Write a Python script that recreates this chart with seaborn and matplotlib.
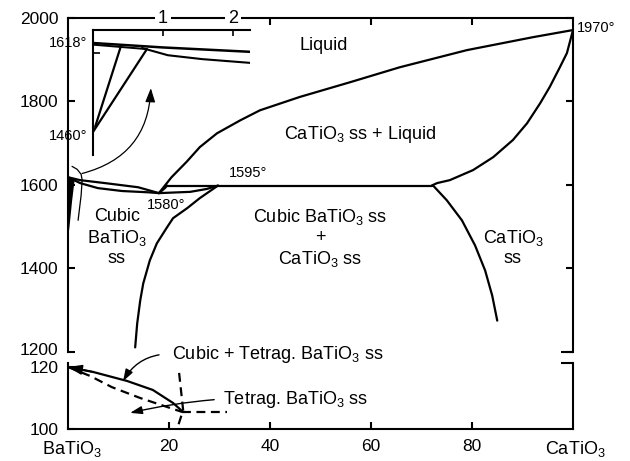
import matplotlib
matplotlib.use("Agg")
import matplotlib.pyplot as plt
from matplotlib.transforms import ScaledTranslation
import seaborn as sns

# ---------------- data (mol% CaTiO3, temperature °C) ----------------
liquidus_x = [18.0, 20.5, 23.5, 26.1, 29.5, 34.1, 38.0, 45.9, 55.8, 65.7, 79.0, 92.1, 100.0]
liquidus_y = [1580, 1618, 1655, 1690, 1723, 1754, 1778, 1810, 1845, 1881, 1922, 1953, 1970]
ca_solidus_x = [100.0, 98.8, 97.4, 95.4, 93.5, 90.9, 88.1, 84.2, 80.2, 75.6, 73.1, 72.0]
ca_solidus_y = [1970, 1915, 1881, 1834, 1795, 1747, 1707, 1666, 1635, 1611, 1604, 1598]
isotherm_x = [19.6, 72.0]
isotherm_y = [1598, 1598]
ba_solvus_x = [29.7, 26.1, 23.6, 20.8, 19.6, 17.6, 16.2, 14.9, 14.3, 13.7, 13.3]
ba_solvus_y = [1598, 1568, 1544, 1520, 1498, 1460, 1419, 1364, 1323, 1268, 1211]
ca_solvus_x = [72.3, 75.0, 78.0, 80.6, 82.6, 84.0, 85.0]
ca_solvus_y = [1598, 1563, 1515, 1455, 1395, 1335, 1275]
ba_liquidus_x = [0.0, 2.4, 7.3, 13.9, 18.0]
ba_liquidus_y = [1618, 1611, 1604, 1594, 1580]
ba_solidus_x = [0.0, 2.4, 5.9, 10.7, 15.8, 18.0]
ba_solidus_y = [1618, 1604, 1592, 1585, 1582, 1580]
eut_upper_x = [18.0, 19.2, 19.6]
eut_upper_y = [1580, 1592, 1598]
eut_lower_x = [18.0, 24.2, 27.5, 29.7]
eut_lower_y = [1580, 1583, 1590, 1598]
hex_x = [0.0, 1.3, 0.8, 0.3, 0.0]
hex_y = [1618, 1610, 1560, 1500, 1470]
marker_x = [0.8, 1.8, 2.6, 2.8, 2.6, 2.0]
marker_y = [1644, 1637, 1625, 1611, 1575, 1515]

# low-temperature panel
ct_solid_x = [0.0, 5.0, 11.7, 16.8, 20.8, 22.8]
ct_solid_y = [120.0, 118.4, 115.5, 112.6, 108.4, 105.5]
ct_dash_x = [0.0, 4.4, 8.7, 14.3, 20.2, 22.6]
ct_dash_y = [120.0, 117.1, 113.5, 110.0, 106.8, 105.5]
tt_dash_x = [22.6, 31.5]
tt_dash_y = [105.5, 105.5]
vert_dash_x = [22.0, 22.8, 21.6]
vert_dash_y = [118.1, 106.1, 100.0]

# inset (mol% CaTiO3 0-2)
in_liq_x = [0.0, 1.0, 2.27]
in_liq_y = [1618, 1610, 1602]
in_liq2_x = [0.0, 0.77]
in_liq2_y = [1615, 1607]
in_sol_x = [0.70, 1.07, 1.56, 2.27]
in_sol_y = [1609, 1596, 1589, 1582]
in_a_x = [0.39, 0.03]
in_a_y = [1609, 1467]
in_b_x = [0.77, 0.0]
in_b_y = [1607, 1458]

# ticks / labels
main_yticks = [1200, 1400, 1600, 1800, 2000]
low_yticks = [100, 120]
comp_ticks = [20, 40, 60, 80]
top_ticks = [40, 60, 80]
inset_xticks = [1, 2]
inset_yticks = [1600]
end_labels = ["BaTiO$_3$", "CaTiO$_3$"]

# annotation anchors
zoom_arrow_from = (2.8, 1627)
zoom_arrow_to = (16.4, 1831)
cubtet_target = (10.9, 115.4)
tet_target = (12.3, 105.2)

# ---------------- style ----------------
sns.set_theme(style="ticks")
plt.rcParams.update({
    "font.family": ["Liberation Sans", "DejaVu Sans"],
    "mathtext.fontset": "custom",
    "mathtext.rm": "Liberation Sans",
    "mathtext.it": "Liberation Sans:italic",
    "mathtext.bf": "Liberation Sans:bold",
    "mathtext.default": "regular",
    "text.color": "black",
    "axes.edgecolor": "black",
    "xtick.color": "black",
    "ytick.color": "black",
    "axes.linewidth": 1.5,
})

W, H = 630, 461
fig = plt.figure(figsize=(6.3, 4.61), dpi=100, facecolor="white")


def fbox(l, t, r, b):
    return [l / W, 1 - b / H, (r - l) / W, (b - t) / H]


def fpos(px, py):
    return (px / W, 1 - py / H)


ax = fig.add_axes(fbox(68, 17.5, 573, 352))
axb = fig.add_axes(fbox(68, 363, 573, 429))
axi = fig.add_axes(fbox(93, 30, 250, 155))
axi.patch.set_alpha(0)


def curve(a, xs, ys, lw=1.6, ls="-"):
    sns.lineplot(x=xs, y=ys, ax=a, color="black", lw=lw, linestyle=ls,
                 sort=False, estimator=None, errorbar=None)


# main panel curves
for xs, ys in [(liquidus_x, liquidus_y), (ca_solidus_x, ca_solidus_y),
               (isotherm_x, isotherm_y), (ba_solvus_x, ba_solvus_y),
               (ca_solvus_x, ca_solvus_y), (ba_liquidus_x, ba_liquidus_y),
               (ba_solidus_x, ba_solidus_y), (eut_upper_x, eut_upper_y),
               (eut_lower_x, eut_lower_y)]:
    curve(ax, xs, ys)
ax.fill(hex_x, hex_y, color="black", lw=0)
curve(ax, marker_x, marker_y, lw=0.9)
ax.annotate("", xy=zoom_arrow_to, xytext=zoom_arrow_from,
            arrowprops=dict(arrowstyle="-|>,head_length=0.7,head_width=0.25",
                            connectionstyle="arc3,rad=0.37", color="black",
                            lw=0.9, shrinkA=0, shrinkB=0, mutation_scale=12))

# low panel curves
curve(axb, ct_solid_x, ct_solid_y)
dash = (0, (4, 2.5))
curve(axb, ct_dash_x, ct_dash_y, ls=dash)
curve(axb, tt_dash_x, tt_dash_y, ls=dash)
curve(axb, vert_dash_x, vert_dash_y, ls=dash)
axb.annotate("", xy=(ct_solid_x[0], ct_solid_y[0]), xytext=(ct_solid_x[1], ct_solid_y[1]),
             arrowprops=dict(arrowstyle="-|>,head_length=0.7,head_width=0.25",
                             color="black", lw=1.2, shrinkA=0, shrinkB=0, mutation_scale=12),
             annotation_clip=False)

# inset curves
curve(axi, in_liq_x, in_liq_y, lw=1.8)
curve(axi, in_liq2_x, in_liq2_y, lw=1.4)
curve(axi, in_sol_x, in_sol_y, lw=1.5)
curve(axi, in_a_x, in_a_y, lw=1.6)
curve(axi, in_b_x, in_b_y, lw=1.6)

# ---------------- axes ----------------
for a in (ax, axb, axi):
    a.set_xlabel("")
    a.set_ylabel("")

ax.set_xlim(0, 100)
ax.set_ylim(1200, 2000)
ax.spines["bottom"].set_visible(False)
ax.set_yticks(main_yticks)
ax.set_yticklabels([str(v) for v in main_yticks])
ax.tick_params(axis="y", direction="in", left=True, right=True, labelleft=True,
               labelright=False, length=5, width=1.5, pad=7, labelsize=12.5)
ax.set_xticks(top_ticks)
ax.tick_params(axis="x", direction="in", top=True, bottom=False, labeltop=False,
               labelbottom=False, length=5, width=1.5)
ax.plot([1 - 12 / 505, 1], [0, 0], transform=ax.transAxes, color="black",
        lw=1.5, clip_on=False, solid_capstyle="butt")
# lift the 1200 label a little, as in the original
lbl1200 = ax.get_yticklabels()[0]
lbl1200.set_transform(lbl1200.get_transform() + ScaledTranslation(0, 0.03, fig.dpi_scale_trans))

axb.set_xlim(0, 100)
axb.set_ylim(100, 121.3)
axb.spines["top"].set_visible(False)
axb.set_yticks(low_yticks)
axb.set_yticklabels([str(v) for v in low_yticks])
axb.tick_params(axis="y", direction="in", left=True, right=False, length=5,
                width=1.5, pad=7, labelsize=12.5)
axb.set_xticks(comp_ticks)
axb.set_xticklabels([str(v) for v in comp_ticks])
axb.tick_params(axis="x", direction="in", bottom=True, top=False, length=5,
                width=1.5, pad=7, labelsize=12.5)
axb.plot([1 - 12 / 505, 1], [1, 1], transform=axb.transAxes, color="black",
         lw=1.5, clip_on=False, solid_capstyle="butt")

axi.set_xlim(0, 2.243)
axi.set_ylim(1416.5, 1641.4)
axi.spines["right"].set_visible(False)
axi.spines["bottom"].set_visible(False)
axi.set_xticks(inset_xticks)
axi.xaxis.tick_top()
axi.set_xticklabels([str(v) for v in inset_xticks])
axi.tick_params(axis="x", direction="in", top=True, bottom=False, labeltop=True,
                labelbottom=False, length=4, width=1.2, pad=2, labelsize=13)
for t in axi.get_xticklabels():
    t.set_bbox(dict(facecolor="white", edgecolor="none", pad=2))
axi.set_yticks(inset_yticks)
axi.tick_params(axis="y", direction="in", left=True, labelleft=False,
                length=5, width=1.2)

# ---------------- texts ----------------
ax.text(50.7, 1932, "Liquid", ha="center", va="center", fontsize=13)
ax.text(57.8, 1719, "CaTiO$_3$ ss + Liquid", ha="center", va="center", fontsize=13)
ax.text(35.6, 1628, "1595°", ha="center", va="center", fontsize=10.5)
ax.text(19.4, 1551, "1580°", ha="center", va="center", fontsize=10.5)
ax.text(100.8, 1975, "1970°", ha="left", va="center", fontsize=10.5)
ax.text(9.7, 1474, "Cubic\nBaTiO$_3$\nss", ha="center", va="center",
        fontsize=13, linespacing=1.2)
ax.text(49.9, 1473, "Cubic BaTiO$_3$ ss\n+\nCaTiO$_3$ ss", ha="center",
        va="center", fontsize=13, linespacing=1.2)
ax.text(88.1, 1450, "CaTiO$_3$\nss", ha="center", va="center", fontsize=13,
        linespacing=1.2)

fig.text(*fpos(87, 43), "1618°", ha="right", va="center", fontsize=10.5)
fig.text(*fpos(87, 136), "1460°", ha="right", va="center", fontsize=10.5)
fig.text(*fpos(72, 454), end_labels[0], ha="center", va="baseline", fontsize=13)
fig.text(*fpos(575, 454), end_labels[1], ha="center", va="baseline", fontsize=13)

axb.annotate("Cubic + Tetrag. BaTiO$_3$ ss", xy=cubtet_target, xycoords="data",
             xytext=fpos(172, 354), textcoords="figure fraction", ha="left",
             va="center", fontsize=13, annotation_clip=False,
             arrowprops=dict(arrowstyle="-|>,head_length=0.6,head_width=0.2",
                             connectionstyle="arc3,rad=0.30", relpos=(0, 0.5),
                             shrinkA=7, shrinkB=0, color="black", lw=1.0,
                             mutation_scale=12))
axb.annotate("Tetrag. BaTiO$_3$ ss", xy=tet_target, xycoords="data",
             xytext=fpos(223, 399), textcoords="figure fraction", ha="left",
             va="center", fontsize=13, annotation_clip=False,
             arrowprops=dict(arrowstyle="-|>,head_length=0.6,head_width=0.2",
                             connectionstyle="arc3,rad=0.04", relpos=(0, 0.5),
                             shrinkA=4, shrinkB=0, color="black", lw=1.0,
                             mutation_scale=12))

fig.savefig("out.png", dpi=100, facecolor="white")
